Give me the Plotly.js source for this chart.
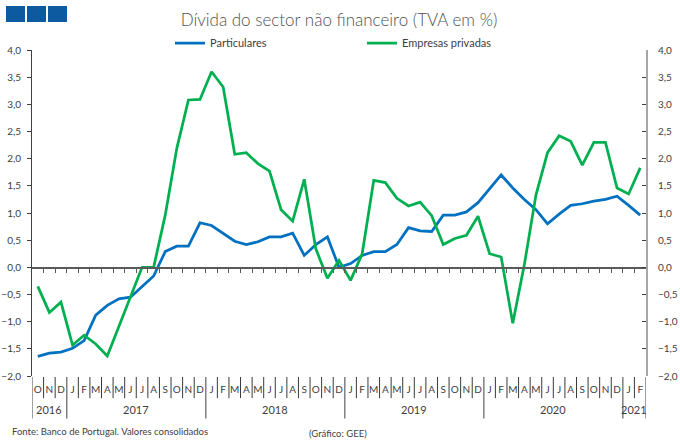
<!DOCTYPE html>
<html>
<head>
<meta charset="utf-8">
<script src="https://cdn.plot.ly/plotly-3.0.1.min.js"></script>
<style>html,body{margin:0;padding:0;background:#fff;}#chart{width:680px;height:446px;}</style>
</head>
<body>
<div id="chart"></div>
<script>
// Categories (year-month) from Oct 2016 to Feb 2021
const categories = [
  '2016-10','2016-11','2016-12',
  '2017-01','2017-02','2017-03','2017-04','2017-05','2017-06','2017-07','2017-08','2017-09','2017-10','2017-11','2017-12',
  '2018-01','2018-02','2018-03','2018-04','2018-05','2018-06','2018-07','2018-08','2018-09','2018-10','2018-11','2018-12',
  '2019-01','2019-02','2019-03','2019-04','2019-05','2019-06','2019-07','2019-08','2019-09','2019-10','2019-11','2019-12',
  '2020-01','2020-02','2020-03','2020-04','2020-05','2020-06','2020-07','2020-08','2020-09','2020-10','2020-11','2020-12',
  '2021-01','2021-02'
];
const monthInitials = ['J','F','M','A','M','J','J','A','S','O','N','D'];

const particulares = [
  -1.64,-1.58,-1.56,
  -1.49,-1.35,-0.88,-0.70,-0.58,-0.55,-0.36,-0.16,0.29,0.39,0.39,0.82,
  0.77,0.63,0.48,0.42,0.47,0.56,0.56,0.63,0.22,0.42,0.56,0.00,
  0.07,0.22,0.29,0.29,0.42,0.73,0.67,0.66,0.96,0.96,1.02,1.19,
  1.45,1.70,1.46,1.25,1.06,0.80,0.98,1.14,1.17,1.22,1.25,1.31,
  1.14,0.96
];
const empresas = [
  -0.35,-0.83,-0.64,
  -1.43,-1.25,-1.41,-1.63,-1.09,-0.55,0.00,0.00,0.96,2.19,3.08,3.09,
  3.60,3.32,2.08,2.11,1.91,1.77,1.06,0.85,1.62,0.34,-0.20,0.13,
  -0.24,0.25,1.60,1.56,1.27,1.13,1.20,0.95,0.42,0.53,0.59,0.94,
  0.25,0.19,-1.03,0.05,1.33,2.11,2.42,2.32,1.88,2.30,2.30,1.46,
  1.35,1.83
];
const yTicks = [-2,-1.5,-1,-0.5,0,0.5,1,1.5,2,2.5,3,3.5,4];

const FONT = 'Lato, "Open Sans", sans-serif';
const TXT = '#404040';

const idx = categories.map((c, i) => i);
const monthLabels = categories.map(c => monthInitials[parseInt(c.slice(5), 10) - 1]);
const years = categories.map(c => c.slice(0, 4));

// year groups
const groups = [];
years.forEach((y, i) => {
  if (!groups.length || groups[groups.length - 1].year !== y) groups.push({year: y, start: i, end: i});
  else groups[groups.length - 1].end = i;
});

const shapes = [];
// separators in the label area
for (let k = 0; k <= categories.length; k++) {
  const isYear = k === 0 || k === categories.length || years[k] !== years[k - 1];
  shapes.push({
    type: 'line', xref: 'x', yref: 'paper',
    x0: k - 0.5, x1: k - 0.5,
    y0: -0.003, y1: isYear ? -0.13 : -0.068,
    line: {color: isYear ? '#7f7f7f' : '#3a3a3a', width: isYear ? 1.5 : 1}
  });
}
// logo squares
[[6, 25], [27, 46], [48, 67]].forEach(([a, b]) => {
  shapes.push({
    type: 'rect', xref: 'paper', yref: 'paper',
    x0: (a - 32) / 614, x1: (b - 32) / 614,
    y0: (376 - 6) / 326, y1: (376 - 22) / 326,
    fillcolor: '#0E5AA1', line: {width: 0}
  });
});

const annotations = groups.map(g => ({
  xref: 'x', yref: 'paper', x: (g.start + g.end) / 2, y: (376 - 409) / 326,
  text: g.year, showarrow: false, font: {family: FONT, size: 11, color: TXT},
  xanchor: 'center', yanchor: 'middle'
}));
annotations.push({
  xref: 'paper', yref: 'paper', x: (10 - 32) / 614, y: (376 - 432) / 326,
  text: 'Fonte: Banco de Portugal. Valores consolidados', showarrow: false,
  font: {family: FONT, size: 9.5, color: TXT}, xanchor: 'left', yanchor: 'middle'
});
annotations.push({
  xref: 'paper', yref: 'paper', x: (307 - 32) / 614, y: (376 - 433) / 326,
  text: '(Gráfico: GEE)', showarrow: false,
  font: {family: FONT, size: 9.5, color: TXT}, xanchor: 'left', yanchor: 'middle'
});

const traces = [
  {x: idx, y: particulares, name: 'Particulares', type: 'scatter', mode: 'lines',
   line: {color: '#0070C0', width: 2.75}, xaxis: 'x', yaxis: 'y'},
  {x: idx, y: empresas, name: 'Empresas privadas', type: 'scatter', mode: 'lines',
   line: {color: '#00B050', width: 2.75}, xaxis: 'x', yaxis: 'y'},
  {x: idx, y: empresas, showlegend: false, hoverinfo: 'skip', mode: 'none', type: 'scatter',
   xaxis: 'x', yaxis: 'y2'},
  {x: idx, y: particulares, xaxis: 'x2', yaxis: 'y', mode: 'none', type: 'scatter',
   showlegend: false, hoverinfo: 'skip'}
];

const xr = [-0.5, categories.length - 0.5];
const boundaries = [];
for (let k = 1; k < categories.length; k++) boundaries.push(k - 0.5);

const layout = {
  width: 680, height: 446,
  margin: {l: 32, r: 34, t: 50, b: 70},
  paper_bgcolor: '#fff', plot_bgcolor: '#fff',
  separators: ',.',
  showlegend: true,
  title: {text: 'Dívida do sector não financeiro (TVA em %)', x: 0.5, xref: 'paper', xanchor: 'center',
          y: 1 - 20 / 446, yref: 'container', yanchor: 'middle',
          font: {family: FONT, size: 17, color: '#505050', weight: 300}},
  legend: {orientation: 'h', x: (170 - 32) / 614, xanchor: 'left', y: (376 - 43) / 326, yanchor: 'middle',
           entrywidth: 147, entrywidthmode: 'pixels',
           font: {family: FONT, size: 11, color: TXT}, bgcolor: 'rgba(0,0,0,0)'},
  xaxis: {range: xr, anchor: 'free', position: 1 / 3, showgrid: false, zeroline: false,
          showline: true, linecolor: '#595959', linewidth: 1.5,
          tickmode: 'array', tickvals: boundaries, ticks: 'outside', ticklen: 4, tickcolor: '#595959',
          showticklabels: false, fixedrange: true},
  xaxis2: {range: xr, overlaying: 'x', anchor: 'y', side: 'bottom', showgrid: false, zeroline: false,
           showline: false, ticks: 'outside', ticklen: 4, tickcolor: 'rgba(0,0,0,0)',
           tickmode: 'array', tickvals: idx, ticktext: monthLabels,
           tickfont: {family: FONT, size: 10, color: TXT}, tickangle: 0},
  yaxis: {range: [-2, 4], tickmode: 'array', tickvals: yTicks, tickformat: '.1f',
          showgrid: false, zeroline: false, showline: true, linecolor: '#404040', linewidth: 1,
          ticks: 'outside', ticklen: 4, tickcolor: '#404040', ticklabelstandoff: 4,
          tickfont: {family: FONT, size: 10, color: TXT}},
  yaxis2: {range: [-2, 4], overlaying: 'y', side: 'right', anchor: 'x', tickmode: 'array', tickvals: yTicks,
           tickformat: '.1f', showgrid: false, zeroline: false, showline: true, linecolor: '#a6a6a6', linewidth: 2,
           ticks: 'inside', ticklen: 4, tickcolor: '#404040', ticklabelstandoff: 8,
           tickfont: {family: FONT, size: 10, color: TXT}},
  shapes: shapes,
  annotations: annotations
};

Plotly.newPlot('chart', traces, layout, {displayModeBar: false, staticPlot: true});
</script>
</body>
</html>
